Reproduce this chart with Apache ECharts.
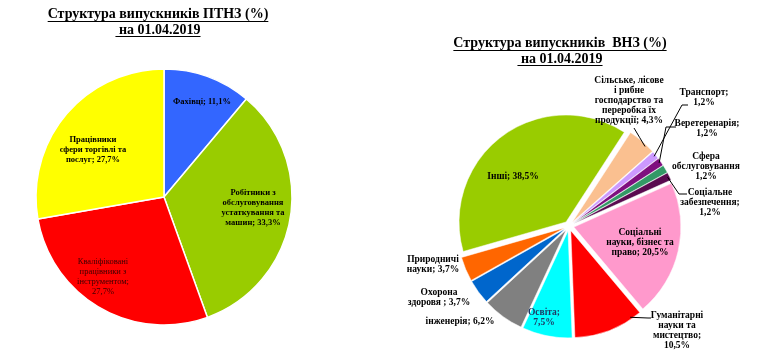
<!DOCTYPE html>
<html><head><meta charset="utf-8">
<script src="https://cdn.jsdelivr.net/npm/echarts@6/dist/echarts.min.js"></script>
<style>html,body{margin:0;padding:0;background:#fff}#c{width:782px;height:358px}</style>
</head><body><div id="c"></div>
<script>
// ---- Data: ПТНЗ ----
const ptnzCategories = ['Фахівці', 'Робітники з обслуговування устаткування та машин', 'Кваліфіковані працівники з інструментом', 'Працівники сфери торгівлі та послуг'];
const ptnzValues = [11.1, 33.3, 27.7, 27.7];
const ptnzLabelTemplates = ['Фахівці; {v}', 'Робітники з\nобслуговування\nустаткування та\nмашин; {v}', 'Кваліфіковані\nпрацівники з\nінструментом;\n{v}', 'Працівники\nсфери торгівлі та\nпослуг; {v}'];
const ptnzColors = ['#3366FF', '#99CC00', '#FF0000', '#FFFF00'];

// ---- Data: ВНЗ ----
const vnzCategories = ['Сільське, лісове і рибне господарство та переробка їх продукції', 'Транспорт', 'Веретеренарія', 'Сфера обслуговування', 'Соціальне забезпечення', 'Соціальні науки, бізнес та право', 'Гуманітарні науки та мистецтво', 'Освіта', 'інженерія', 'Охорона здоровя', 'Природничі науки', 'Інші'];
const vnzValues = [4.3, 1.2, 1.2, 1.2, 1.2, 20.5, 10.5, 7.5, 6.2, 3.7, 3.7, 38.5];
const vnzLabelTemplates = ['Сільське, лісове\nі рибне\nгосподарство та\nпереробка їх\nпродукції; {v}', 'Транспорт;\n{v}', 'Веретеренарія;\n{v}', 'Сфера\nобслуговування\n{v}', 'Соціальне\nзабезпечення;\n{v}', 'Соціальні\nнауки, бізнес та\nправо; {v}', 'Гуманітарні\nнауки та\nмистецтво;\n{v}', 'Освіта;\n{v}', 'інженерія; {v}', 'Охорона\nздоровя ; {v}', 'Природничі\nнауки; {v}', 'Інші; {v}'];
const vnzColors = ['#FAC090', '#CC99FF', '#7F0F7F', '#339966', '#5A0A50', '#FF99CC', '#FF0000', '#00FFFF', '#808080', '#0066CC', '#FF6600', '#99CC00'];

// ---- Label placement (not data) ----
const ptnzLabelPos = [[202, 102], [253, 208], [103, 277], [93, 150]];
const ptnzLabelColors = ['#000', '#000', '#3a0000', '#000'];
const vnzLabelPos = [[629, 101], [704, 98], [707, 129], [706, 167], [710, 203], [640, 243], [677, 331], [544, 318], [460, 322], [439, 298], [433, 265], [513, 177]];
const vnzLabelColors = ['#000','#000','#000','#000','#000','#000','#000','#1f3864','#000','#000','#000','#000'];
// leader line: fraction along the slice arc for the anchor, then points relative to label centre; null = no line
const vnzLeaders = [
  {f: 0.7, pts: [[5, 27]]},
  {f: 0.5, pts: [[-22, 7], [-16, 7]]},
  {f: 0.5, pts: [[-41, -2], [-31, -2]]},
  null,
  {f: 0.5, pts: [[-31, -9], [-23, -9]]},
  null,
  {f: 0.15, pts: [[-29, -13], [-26, -13]]},
  null, null, null, null, null
];

const fmt = v => v.toFixed(1).replace('.', ',') + '%';
const FONT = '"Liberation Serif", "Times New Roman", serif';
const EXPLODE = 5;

const chart = echarts.init(document.getElementById('c'), null, {renderer: 'canvas'});

function anchorOf(seriesIndex, dataIndex, frac, inset) {
  const data = chart.getModel().getSeriesByIndex(seriesIndex).getData();
  const l = data.getItemLayout(dataIndex);
  const mid = (l.startAngle + l.endAngle) / 2;
  const a = l.startAngle + (l.endAngle - l.startAngle) * frac;
  const r = l.r - inset;
  const ox = Math.cos(mid) * EXPLODE, oy = Math.sin(mid) * EXPLODE;
  return [l.cx + ox + Math.cos(a) * r, l.cy + oy + Math.sin(a) * r];
}

const ptnzData = ptnzValues.map((v, i) => ({
  name: ptnzCategories[i], value: v,
  itemStyle: {color: ptnzColors[i]},
  label: {color: ptnzLabelColors[i], fontWeight: i === 2 ? 'normal' : 'bold'}
}));
const vnzData = vnzValues.map((v, i) => ({
  name: vnzCategories[i], value: v, selected: true,
  itemStyle: {color: vnzColors[i]}
}));
const vnzLabelData = vnzValues.map((v, i) => ({
  name: vnzCategories[i], value: v,
  label: {color: vnzLabelColors[i]},
  labelLine: {show: !!vnzLeaders[i]}
}));

// title measurement for underline
const TITLE_SIZE = 14;
const ctx = document.createElement('canvas').getContext('2d');
ctx.font = 'bold ' + TITLE_SIZE + 'px ' + FONT;
const titles = [
  {text: 'Структура випускників ПТНЗ (%)', x: 158, top: 7, ul: 21.5},
  {text: ' на 01.04.2019', x: 158, top: 23, ul: 36.5},
  {text: 'Структура випускників  ВНЗ (%)', x: 560, top: 36, ul: 50.5},
  {text: ' на 01.04.2019', x: 560, top: 52, ul: 65.5}
];
const graphics = titles.map(t => {
  const w = ctx.measureText(t.text).width;
  return {type: 'line', silent: true, shape: {x1: t.x - w / 2, y1: t.ul, x2: t.x + w / 2, y2: t.ul}, style: {stroke: '#000', lineWidth: 1}};
});

const option = {
  backgroundColor: '#fff',
  animation: false,
  title: titles.map(t => ({
    text: t.text, left: t.x, top: t.top, textAlign: 'center', padding: 0,
    textStyle: {fontFamily: FONT, fontWeight: 'bold', fontSize: TITLE_SIZE, color: '#000', lineHeight: TITLE_SIZE}
  })),
  graphic: graphics,
  series: [
    {
      type: 'pie', silent: true,
      center: [164, 197], radius: 128, startAngle: 90, clockwise: true,
      avoidLabelOverlap: false,
      itemStyle: {borderColor: '#fff', borderWidth: 1.5},
      label: {
        show: true, position: 'inside', fontFamily: FONT, fontSize: 8.5, lineHeight: 10,
        fontWeight: 'bold', align: 'center',
        formatter: p => ptnzLabelTemplates[p.dataIndex].replace('{v}', fmt(p.value))
      },
      labelLine: {show: false},
      labelLayout: p => ({x: ptnzLabelPos[p.dataIndex][0], y: ptnzLabelPos[p.dataIndex][1], align: 'center', verticalAlign: 'middle'}),
      data: ptnzData
    },
    {
      // exploded slices
      type: 'pie', silent: true,
      center: [569, 226], radius: 107, startAngle: 57, clockwise: true,
      selectedMode: 'multiple', selectedOffset: EXPLODE,
      itemStyle: {borderColor: '#fff', borderWidth: 0.5},
      select: {itemStyle: {borderColor: '#fff', borderWidth: 0.5}},
      label: {show: false}, labelLine: {show: false},
      data: vnzData
    },
    {
      // labels for the exploded pie (transparent slices)
      type: 'pie', silent: true, z: 3,
      center: [569, 226], radius: 107, startAngle: 57, clockwise: true,
      avoidLabelOverlap: false,
      itemStyle: {color: 'rgba(0,0,0,0)', borderWidth: 0},
      label: {
        show: true, position: 'outside', fontFamily: FONT, fontSize: 9.5, lineHeight: 10,
        fontWeight: 'bold', align: 'center', color: '#000',
        formatter: p => vnzLabelTemplates[p.dataIndex].replace('{v}', fmt(p.value))
      },
      labelLine: {show: false, lineStyle: {color: '#000', width: 1}, length: 5, length2: 5},
      labelLayout: p => {
        const i = p.dataIndex;
        const pos = vnzLabelPos[i];
        const res = {x: pos[0], y: pos[1], align: 'center', verticalAlign: 'middle'};
        const ld = vnzLeaders[i];
        if (ld) {
          const pts = [anchorOf(2, i, ld.f, 2)];
          ld.pts.forEach(d => pts.push([pos[0] + d[0], pos[1] + d[1]]));
          if (pts.length === 2) pts.splice(1, 0, [(pts[0][0] + pts[1][0]) / 2, (pts[0][1] + pts[1][1]) / 2]);
          res.labelLinePoints = pts;
        }
        return res;
      },
      data: vnzLabelData
    }
  ]
};
chart.setOption(option);
</script>
</body></html>
